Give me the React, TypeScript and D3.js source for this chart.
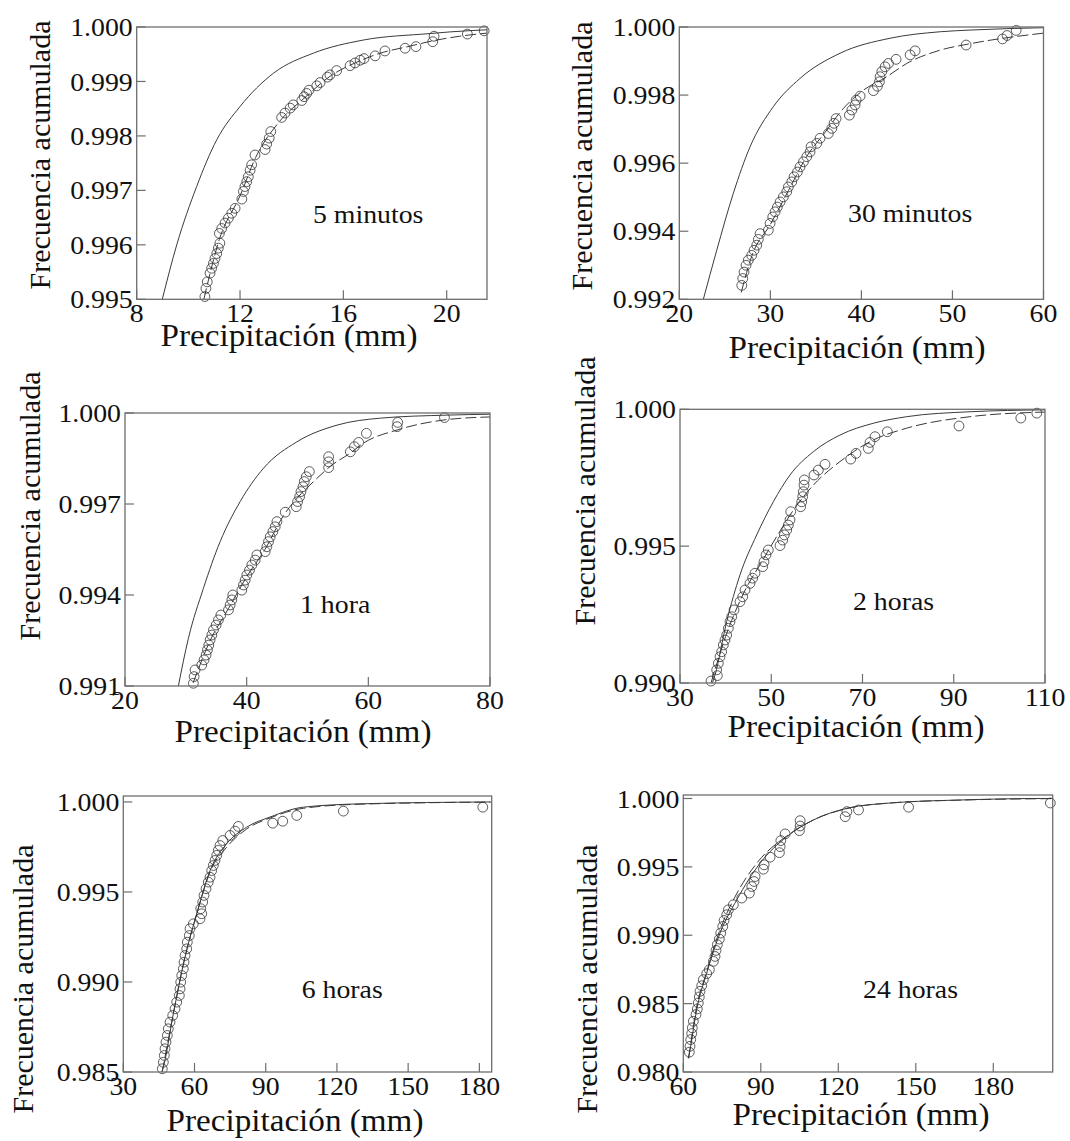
import React from "react";
import * as d3 from "d3";

// ---------- DATA ----------
type P = [number, number];

// 5 minutos
const obs5min: P[] = [
  [10.64, 0.99505], [10.68, 0.9952], [10.73, 0.99532], [10.84, 0.99548], [10.9, 0.99557],
  [10.97, 0.99566], [11.03, 0.99575], [11.1, 0.99584], [11.16, 0.99594], [11.22, 0.99603],
  [11.2, 0.99621], [11.29, 0.9963], [11.42, 0.9964], [11.55, 0.99649], [11.68, 0.99658],
  [11.81, 0.99667], [12.07, 0.99684], [12.13, 0.99698], [12.19, 0.99707], [12.26, 0.99716],
  [12.32, 0.99725], [12.39, 0.99737], [12.45, 0.99747], [12.58, 0.99765], [12.97, 0.99775],
  [13.03, 0.99785], [13.13, 0.99796], [13.19, 0.99808], [13.61, 0.99834], [13.74, 0.99842],
  [13.94, 0.99851], [14.06, 0.99857], [14.39, 0.99865], [14.48, 0.99872], [14.58, 0.99878],
  [14.67, 0.99884], [14.97, 0.99892], [15.1, 0.99898], [15.38, 0.99908], [15.48, 0.99912],
  [15.74, 0.9992], [16.26, 0.99929], [16.45, 0.99934], [16.65, 0.99939], [16.8, 0.99942],
  [17.23, 0.99947], [17.61, 0.99956], [18.39, 0.99961], [18.81, 0.99964], [19.46, 0.99973],
  [19.51, 0.99983], [20.8, 0.99987], [21.45, 0.99993],
];
const fitA5min: P[] = [
  [8.99, 0.995], [9.55, 0.996], [10.32, 0.99707], [11.1, 0.99793], [12.0, 0.99854],
  [13.29, 0.99915], [14.84, 0.99952], [16.77, 0.99976], [19.36, 0.99988], [20.13, 0.99991], [21.6, 0.99995],
];
const fitB5min: P[] = [
  [10.6, 0.995], [11.2, 0.9961], [12.0, 0.9969], [12.6, 0.9976], [13.5, 0.99825], [14.5, 0.9987],
  [15.5, 0.9991], [16.5, 0.99935], [17.5, 0.99953], [18.5, 0.99964], [19.5, 0.99975], [20.5, 0.99983], [21.6, 0.99989],
];

// 30 minutos
const obs30min: P[] = [
  [26.86, 0.99241], [26.97, 0.99261], [27.11, 0.9928], [27.33, 0.993], [27.58, 0.99315],
  [27.95, 0.99329], [28.21, 0.99344], [28.51, 0.99359], [28.68, 0.99376], [28.87, 0.99393],
  [29.78, 0.99403], [29.97, 0.99423], [30.26, 0.99442], [30.52, 0.99457], [30.77, 0.99471],
  [31.07, 0.99486], [31.43, 0.99501], [31.8, 0.99516], [31.98, 0.9953], [32.35, 0.99545],
  [32.6, 0.9956], [32.97, 0.99574], [33.26, 0.99589], [33.63, 0.99604], [34.0, 0.99619],
  [34.36, 0.99633], [34.47, 0.99648], [35.1, 0.99658], [35.46, 0.99673], [36.37, 0.99687],
  [36.75, 0.99702], [37.0, 0.99717], [37.22, 0.99731], [38.68, 0.99741], [38.95, 0.99756],
  [39.31, 0.99771], [39.42, 0.99785], [39.86, 0.99797], [41.32, 0.99813], [41.76, 0.99826],
  [41.98, 0.99839], [42.05, 0.99854], [42.24, 0.99869], [42.6, 0.99883], [42.97, 0.99893],
  [43.81, 0.99905], [45.35, 0.99918], [45.9, 0.9993], [51.5, 0.99947], [55.5, 0.99965],
  [56.0, 0.99975], [57.0, 0.9999],
];
const fitA30min: P[] = [
  [22.64, 0.992], [24.11, 0.99344], [25.93, 0.99511], [27.77, 0.99648], [30.33, 0.99766],
  [33.26, 0.99849], [37.66, 0.99923], [43.15, 0.99967], [48.65, 0.99986], [51.95, 0.99991], [60, 0.99998],
];
const fitB30min: P[] = [
  [26.8, 0.9922], [28, 0.9933], [30, 0.9942], [32, 0.9952], [34, 0.9962], [36, 0.9969], [38, 0.9976],
  [40, 0.9981], [42.79, 0.99854], [44.99, 0.99893], [48.65, 0.99932], [51.76, 0.9995], [60, 0.99982],
];

// 1 hora
const obs1h: P[] = [
  [31.24, 0.99109], [31.36, 0.99131], [31.52, 0.99153], [32.62, 0.99169], [33.0, 0.99186],
  [33.33, 0.99202], [33.55, 0.99219], [33.78, 0.99235], [33.99, 0.99252], [34.27, 0.99268],
  [34.54, 0.99285], [34.98, 0.99301], [35.36, 0.99318], [35.76, 0.99334], [37.01, 0.99351],
  [37.28, 0.99367], [37.56, 0.99384], [37.72, 0.994], [39.2, 0.99416], [39.47, 0.99433],
  [39.75, 0.99449], [40.03, 0.99466], [40.46, 0.99482], [40.85, 0.99499], [41.4, 0.99515],
  [41.68, 0.99532], [43.05, 0.99543], [43.32, 0.99559], [43.59, 0.99576], [43.87, 0.99592],
  [44.31, 0.99609], [44.69, 0.99625], [44.97, 0.99642], [46.34, 0.99673], [48.15, 0.99691],
  [48.37, 0.99708], [48.7, 0.99724], [48.93, 0.99741], [49.26, 0.99757], [49.47, 0.99774],
  [49.8, 0.9979], [50.3, 0.99807], [53.47, 0.9982], [53.47, 0.99839], [53.47, 0.99856],
  [57.04, 0.99872], [57.7, 0.99889], [58.41, 0.99903], [59.68, 0.99933], [64.73, 0.99955],
  [64.83, 0.99969], [72.51, 0.99985],
];
const fitA1h: P[] = [
  [28.77, 0.991], [30.42, 0.99257], [32.89, 0.99422], [35.64, 0.99576], [38.93, 0.99708],
  [42.77, 0.99818], [48.26, 0.99905], [54.85, 0.9996], [61.98, 0.99983], [72.95, 0.99993], [80, 0.99996],
];
const fitB1h: P[] = [
  [31.2, 0.9911], [34, 0.9925], [37, 0.99355], [40, 0.9946], [43, 0.9955], [46, 0.9966], [49, 0.99735],
  [51.0, 0.99774], [53.74, 0.99824], [57.04, 0.99868], [59.23, 0.99901], [64.73, 0.99944], [72.4, 0.99977], [80, 0.99987],
];

// 2 horas
const obs2h: P[] = [
  [36.79, 0.99007], [38.18, 0.99027], [38.04, 0.99048], [38.4, 0.99072], [38.77, 0.99096],
  [39.13, 0.99114], [39.5, 0.99139], [39.86, 0.99157], [40.23, 0.99175], [40.6, 0.992],
  [40.96, 0.99224], [41.33, 0.99242], [41.84, 0.99267], [43.15, 0.99297], [43.74, 0.99315],
  [44.25, 0.9934], [45.34, 0.99364], [45.93, 0.99383], [46.44, 0.99401], [48.13, 0.99425],
  [48.41, 0.99443], [48.85, 0.99468], [49.36, 0.99486], [51.92, 0.99502], [52.51, 0.99522],
  [52.87, 0.99541], [53.39, 0.99559], [53.75, 0.99577], [54.11, 0.99596], [54.27, 0.99626],
  [56.45, 0.99644], [56.68, 0.99662], [56.89, 0.99681], [57.03, 0.99699], [57.18, 0.99723],
  [57.25, 0.99742], [59.37, 0.9976], [60.32, 0.99778], [61.78, 0.99799], [67.41, 0.99818],
  [68.58, 0.99839], [71.27, 0.99857], [71.64, 0.99879], [72.74, 0.999], [75.44, 0.99918],
  [91.15, 0.99939], [104.7, 0.99968], [108.2, 0.99986],
];
const fitA2h: P[] = [
  [37.1, 0.99], [37.67, 0.99029], [40.23, 0.99224], [43.15, 0.99395], [46.81, 0.99541], [50.45, 0.99662],
  [54.11, 0.9976], [59.22, 0.99845], [65.07, 0.99906], [72.38, 0.99949], [79.68, 0.99973], [93.56, 0.99991], [110, 0.99998],
];
const fitB2h: P[] = [
  [36.8, 0.99], [40, 0.9917], [44, 0.9933], [48, 0.99445], [51.19, 0.99535], [55, 0.99635], [59.22, 0.99723],
  [65.07, 0.99809], [72.38, 0.99888], [79.68, 0.99931], [93.56, 0.99973], [110, 0.9999],
];

// 6 horas
const obs6h: P[] = [
  [46.43, 0.98518], [46.86, 0.98554], [47.28, 0.98592], [47.57, 0.98629], [47.99, 0.98666],
  [48.54, 0.98703], [48.96, 0.9874], [49.68, 0.98777], [50.82, 0.98814], [51.79, 0.98851],
  [52.5, 0.98888], [53.6, 0.98925], [53.89, 0.98962], [54.19, 0.98999], [54.61, 0.99036],
  [55.28, 0.99073], [55.58, 0.9911], [56.0, 0.99147], [56.72, 0.99184], [56.97, 0.99221],
  [57.81, 0.99258], [58.11, 0.99296], [59.5, 0.99323], [62.32, 0.99351], [63.04, 0.99379],
  [62.62, 0.99407], [63.46, 0.99444], [64.01, 0.99481], [64.85, 0.99518], [65.82, 0.99555],
  [66.54, 0.99582], [67.25, 0.99619], [67.93, 0.99647], [68.64, 0.99675], [69.36, 0.99703],
  [70.03, 0.99731], [70.75, 0.99758], [71.89, 0.99786], [74.96, 0.99814], [77.07, 0.99838],
  [78.46, 0.99864], [92.96, 0.99882], [97.17, 0.99893], [103.07, 0.99925], [122.71, 0.99949],
  [181.45, 0.99971],
];
const fitA6h: P[] = [
  [46.2, 0.985], [46.86, 0.98527], [51.07, 0.98823], [56.0, 0.99138], [60.93, 0.99379], [66.54, 0.99619],
  [73.57, 0.99768], [82.0, 0.9986], [91.82, 0.99916], [105.85, 0.99971], [131.14, 0.9999], [184.5, 1.0],
];
const fitB6h: P[] = [
  [46.4, 0.985], [51, 0.9882], [56, 0.9914], [61, 0.9938], [66.5, 0.9961], [74, 0.99755], [82, 0.9985],
  [92, 0.99912], [106, 0.99965], [131, 0.99988], [185, 0.99999],
];

// 24 horas
const obs24h: P[] = [
  [62.33, 0.98145], [62.6, 0.98188], [62.87, 0.98237], [63.26, 0.98281], [63.49, 0.98323],
  [63.88, 0.98371], [64.92, 0.9842], [65.43, 0.98461], [65.81, 0.98505], [66.2, 0.98549],
  [66.47, 0.9859], [67.13, 0.98631], [67.75, 0.98675], [69.07, 0.98719], [70.08, 0.98748],
  [71.63, 0.98809], [72.29, 0.98845], [72.67, 0.98889], [73.18, 0.98931], [73.95, 0.98972],
  [74.5, 0.99016], [75.27, 0.99064], [75.78, 0.99108], [76.82, 0.9915], [77.44, 0.99186],
  [79.38, 0.99223], [82.64, 0.99272], [85.58, 0.99308], [86.51, 0.99356], [87.4, 0.99393],
  [87.79, 0.99429], [91.01, 0.99483], [91.28, 0.99515], [93.6, 0.99571], [97.21, 0.99604],
  [97.48, 0.99648], [97.75, 0.99692], [99.42, 0.99741], [104.96, 0.99765], [105.23, 0.99799],
  [105.23, 0.99838], [122.67, 0.99867], [123.33, 0.99904], [127.83, 0.99916], [147.21, 0.99936],
  [202.1, 0.99967],
];
const fitA24h: P[] = [
  [61.9, 0.981], [62.6, 0.98164], [65.19, 0.98456], [69.07, 0.98724], [74.22, 0.99016], [80.7, 0.99259],
  [89.73, 0.99527], [100.08, 0.99721], [110.39, 0.99843], [123.33, 0.99928], [141.4, 0.99969],
  [167.25, 0.99989], [198.26, 1.0], [203, 1.0],
];
const fitB24h: P[] = [
  [62.1, 0.981], [65, 0.9846], [69, 0.9873], [74, 0.9903], [80, 0.9928], [89, 0.9954], [100, 0.99725],
  [110, 0.9984], [123, 0.99925], [141, 0.99968], [167, 0.99988], [203, 0.99999],
];

// Tick values
const yTicks5min = [0.995, 0.996, 0.997, 0.998, 0.999, 1.0];
const xTicks5min = [8, 12, 16, 20];
const yTicks30min = [0.992, 0.994, 0.996, 0.998, 1.0];
const xTicks30min = [20, 30, 40, 50, 60];
const yTicks1h = [0.991, 0.994, 0.997, 1.0];
const xTicks1h = [20, 40, 60, 80];
const yTicks2h = [0.99, 0.995, 1.0];
const xTicks2h = [30, 50, 70, 90, 110];
const yTicks6h = [0.985, 0.99, 0.995, 1.0];
const xTicks6h = [30, 60, 90, 120, 150, 180];
const yTicks24h = [0.98, 0.985, 0.99, 0.995, 1.0];
const xTicks24h = [60, 90, 120, 150, 180];

const panelLabels = ["5 minutos", "30 minutos", "1 hora", "2 horas", "6 horas", "24 horas"];
const xTitle = "Precipitación (mm)";
const yTitle = "Frecuencia acumulada";

// ---------- LAYOUT ----------
interface Panel {
  label: string;
  obs: P[];
  fitA: P[];
  fitB: P[];
  xDomain: [number, number];
  yDomain: [number, number];
  xTicks: number[];
  yTicks: number[];
  box: { l: number; r: number; t: number; b: number };
  labelPos: [number, number];
  yTitlePos: [number, number];
  xTitlePos: [number, number];
}

const panels: Panel[] = [
  {
    label: panelLabels[0], obs: obs5min, fitA: fitA5min, fitB: fitB5min,
    xDomain: [8, 21.56], yDomain: [0.995, 1.0], xTicks: xTicks5min, yTicks: yTicks5min,
    box: { l: 136.7, r: 487, t: 27, b: 299.3 }, labelPos: [313, 222.7], yTitlePos: [50, 155], xTitlePos: [289, 346],
  },
  {
    label: panelLabels[1], obs: obs30min, fitA: fitA30min, fitB: fitB30min,
    xDomain: [20, 60], yDomain: [0.992, 1.0], xTicks: xTicks30min, yTicks: yTicks30min,
    box: { l: 679.3, r: 1043.5, t: 27, b: 299.3 }, labelPos: [848, 221.7], yTitlePos: [592, 156], xTitlePos: [857, 358],
  },
  {
    label: panelLabels[2], obs: obs1h, fitA: fitA1h, fitB: fitB1h,
    xDomain: [20, 80], yDomain: [0.991, 1.0], xTicks: xTicks1h, yTicks: yTicks1h,
    box: { l: 125, r: 490, t: 413, b: 686 }, labelPos: [300, 613.3], yTitlePos: [40, 506], xTitlePos: [303, 742],
  },
  {
    label: panelLabels[3], obs: obs2h, fitA: fitA2h, fitB: fitB2h,
    xDomain: [30, 110], yDomain: [0.99, 1.0], xTicks: xTicks2h, yTicks: yTicks2h,
    box: { l: 680, r: 1045, t: 409.3, b: 683 }, labelPos: [853, 610], yTitlePos: [595, 491], xTitlePos: [856, 737],
  },
  {
    label: panelLabels[4], obs: obs6h, fitA: fitA6h, fitB: fitB6h,
    xDomain: [30, 185.2], yDomain: [0.985, 1.00033], xTicks: xTicks6h, yTicks: yTicks6h,
    box: { l: 123.3, r: 491.7, t: 796, b: 1072 }, labelPos: [301.7, 998.3], yTitlePos: [33, 979], xTitlePos: [295, 1131],
  },
  {
    label: panelLabels[5], obs: obs24h, fitA: fitA24h, fitB: fitB24h,
    xDomain: [60, 203], yDomain: [0.98, 1.000255], xTicks: xTicks24h, yTicks: yTicks24h,
    box: { l: 683.3, r: 1052.7, t: 795, b: 1072 }, labelPos: [863, 998.3], yTitlePos: [597, 979], xTitlePos: [861, 1125],
  },
];

const FONT = "'Liberation Serif', 'Times New Roman', serif";
const frameColor = "#6e6e6e";
const lineColor = "#3a3a3a";
const SX = 1.07; // horizontal stretch of the reference's lettering

function SText({
  x, y, size, anchor = "start", dy, children,
}: { x: number; y: number; size: number; anchor?: string; dy?: string; children: React.ReactNode }) {
  return (
    <text
      transform={`translate(${x},${y}) scale(${SX},1)`}
      textAnchor={anchor as any}
      dy={dy}
      fontSize={size}
      fontFamily={FONT}
      fill="#111"
    >
      {children}
    </text>
  );
}

function PanelView({ p }: { p: Panel }) {
  const { l, r, t, b } = p.box;
  const x = d3.scaleLinear().domain(p.xDomain).range([l, r]);
  const y = d3.scaleLinear().domain(p.yDomain).range([b, t]);
  const line = d3
    .line<P>()
    .x((d) => x(d[0]))
    .y((d) => y(d[1]))
    .curve(d3.curveMonotoneX);
  const fmt = d3.format(".3f");
  const clipId = `clip-${p.label.replace(/\s/g, "")}`;
  return (
    <g>
      <defs>
        <clipPath id={clipId}>
          <rect x={l} y={t} width={r - l} height={b - t} />
        </clipPath>
      </defs>
      <g clipPath={`url(#${clipId})`}>
        <path d={line(p.fitA) || ""} fill="none" stroke={lineColor} strokeWidth={1} />
        <path d={line(p.fitB) || ""} fill="none" stroke={lineColor} strokeWidth={1} strokeDasharray="11,4" />
      </g>
      {p.obs.map((d, i) => (
        <circle key={i} cx={x(d[0])} cy={y(d[1])} r={4.9} fill="none" stroke="#333" strokeWidth={0.8} />
      ))}
      <rect x={l} y={t} width={r - l} height={b - t} fill="none" stroke={frameColor} strokeWidth={1.3} />
      {p.xTicks.map((v) => (
        <g key={"x" + v}>
          <line x1={x(v)} x2={x(v)} y1={b} y2={b - 9} stroke={frameColor} strokeWidth={1.2} />
          <SText x={x(v)} y={b + 23} size={26} anchor="middle">
            {v}
          </SText>
        </g>
      ))}
      {p.yTicks.map((v) => (
        <g key={"y" + v}>
          <line x1={l} x2={l + 9} y1={y(v)} y2={y(v)} stroke={frameColor} strokeWidth={1.2} />
          <SText x={l - 4} y={y(v)} dy="0.35em" size={26} anchor="end">
            {fmt(v)}
          </SText>
        </g>
      ))}
      <SText x={p.labelPos[0]} y={p.labelPos[1]} size={26}>
        {p.label}
      </SText>
      <SText x={p.xTitlePos[0]} y={p.xTitlePos[1]} size={31} anchor="middle">
        {xTitle}
      </SText>
      <text
        transform={`translate(${p.yTitlePos[0]},${p.yTitlePos[1]}) rotate(-90)`}
        textAnchor="middle"
        fontSize={30}
        fontFamily={FONT}
        fill="#111"
      >
        {yTitle}
      </text>
    </g>
  );
}

export default function App() {
  return (
    <svg
      width={1070}
      height={1141}
      viewBox="0 0 1070 1141"
      style={{ position: "absolute", left: 0, top: 0, background: "#fff" }}
    >
      <rect x={0} y={0} width={1070} height={1141} fill="#fff" />
      {panels.map((p) => (
        <PanelView key={p.label} p={p} />
      ))}
    </svg>
  );
}
